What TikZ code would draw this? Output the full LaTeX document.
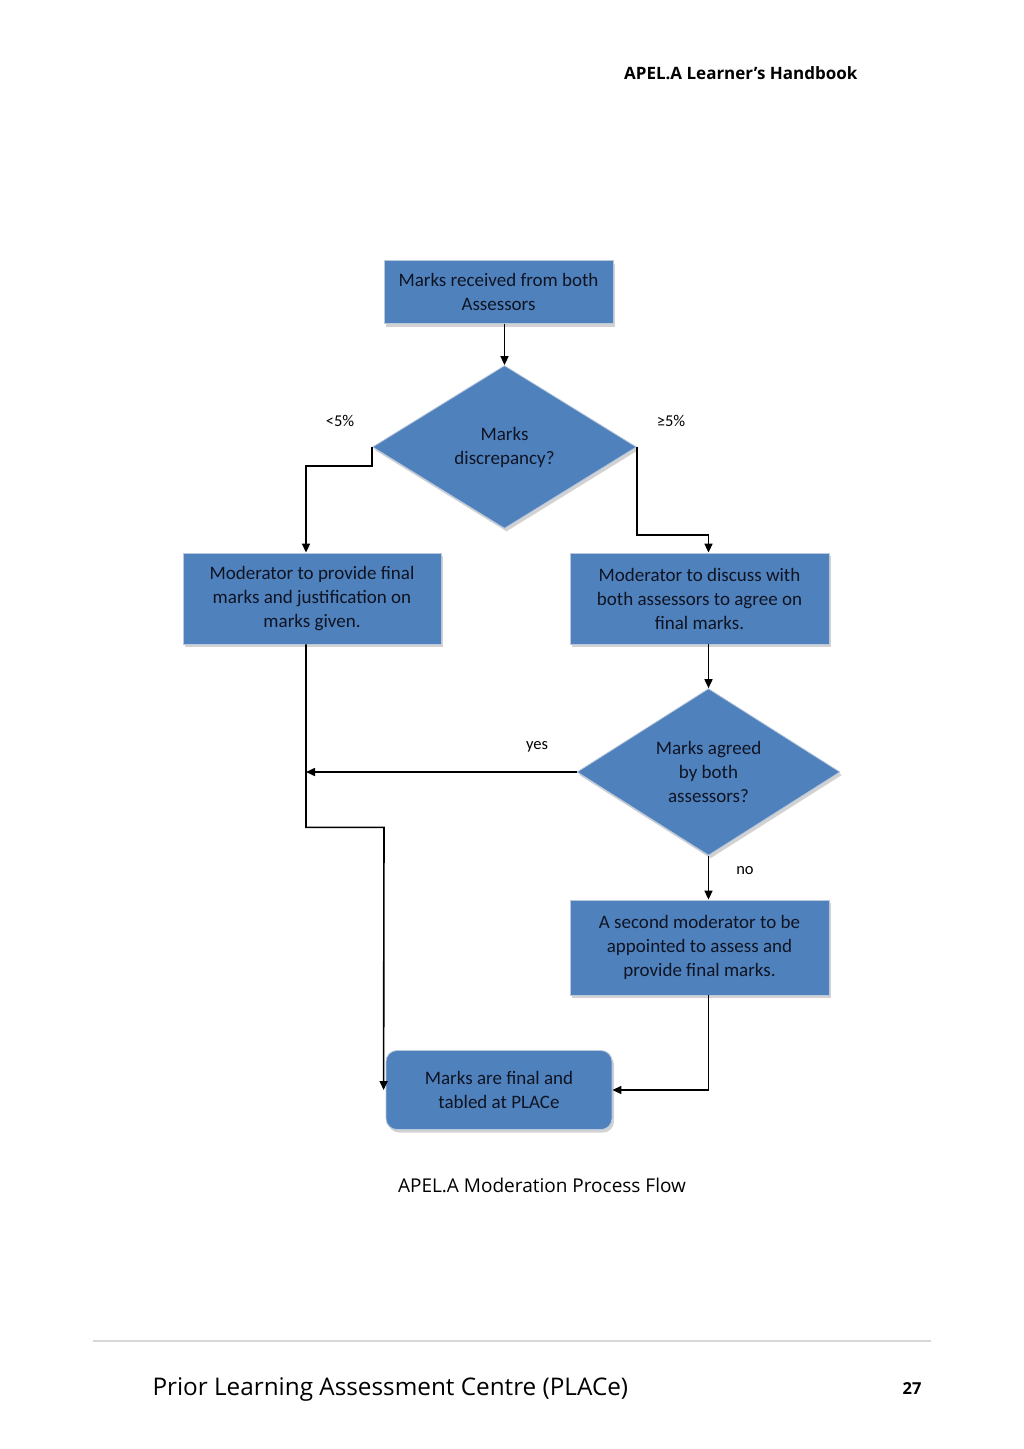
\documentclass[tikz,border=0pt]{standalone}
\usepackage{fontspec}
\setmainfont{Carlito}
\newfontfamily\pagefont{Open Sans}
\usetikzlibrary{arrows.meta,shapes.geometric,shadows}

\definecolor{boxblue}{RGB}{79,129,189}
\definecolor{boxedge}{RGB}{185,200,220}
\definecolor{boxtext}{RGB}{15,20,35}
\definecolor{rulegray}{RGB}{215,215,215}

\tikzset{
  stepbox/.style={rectangle, fill=boxblue, draw=boxedge, line width=0.8pt,
    text=boxtext, align=center, inner sep=0pt,
    font=\fontsize{19}{24}\selectfont,
    drop shadow={shadow xshift=2pt, shadow yshift=-3pt, fill=gray!70, opacity=0.5}},
  decision/.style={stepbox, diamond},
  endbox/.style={stepbox, rounded corners=11pt},
  flow/.style={line width=1.6pt, -{Triangle[length=9pt,width=8pt]}},
  lbl/.style={font=\fontsize{16.5}{18}\selectfont, text=black}
}

\begin{document}
\begin{tikzpicture}[x=1pt,y=-1pt]
  \useasboundingbox[fill=white] (0,0) rectangle (1024,1449);

  % page header and footer
  \node[anchor=east, font=\pagefont\bfseries\fontsize{17}{20}\selectfont] (head) at (861,73) {APEL.A Learner’s Handbook};
  \draw[rulegray, line width=1.6pt] (93,1341) -- (931,1341);
  \node[anchor=west, font=\pagefont\fontsize{24.3}{28}\selectfont] (foot) at (149,1389) {Prior Learning Assessment Centre (PLACe)};
  \node[font=\pagefont\bfseries\fontsize{16.5}{20}\selectfont] (page) at (912,1389) {27};

  % flow chart
  \node[stepbox, minimum width=229pt, minimum height=63pt] (recv) at (498.5,292) {Marks received from both\\Assessors};
  \node[decision, minimum width=264pt, minimum height=163pt] (disc) at (504.5,447) {Marks\\discrepancy?};
  \node[stepbox, minimum width=258pt, minimum height=91pt] (modfinal) at (312,598.5) {Moderator to provide final\\marks and justification on\\marks given.};
  \node[stepbox, minimum width=259pt, minimum height=91pt] (moddisc) at (699.5,598.5) {Moderator to discuss with\\both assessors to agree on\\final marks.};
  \node[decision, minimum width=263pt, minimum height=162pt] (agreed) at (708.5,772) {Marks agreed\\by both\\assessors?};
  \node[stepbox, minimum width=259pt, minimum height=95pt] (second) at (699.5,947.5) {A second moderator to be\\appointed to assess and\\provide final marks.};
  \node[endbox, minimum width=226pt, minimum height=79pt] (tabled) at (499,1090) {Marks are final and\\tabled at PLACe};

  \coordinate (leftline) at ([xshift=-6pt]modfinal.south);
  \coordinate (join) at (leftline |- agreed.west);

  \draw[flow] (disc.north |- recv.south) -- (disc.north);
  \draw[flow] (disc.west) -- ++(0,19) -| ([xshift=-6pt]modfinal.north);
  \draw[flow] (disc.east) -- ++(0,88) -| (agreed.north |- moddisc.north);
  \draw[flow] (agreed.north |- moddisc.south) -- (agreed.north);
  \draw[flow] (agreed.west) -- (join);
  \draw[flow] (agreed.south) -- (agreed.south |- second.north);
  \draw[flow] (agreed.south |- second.south) |- (tabled.east);
  \draw[flow] (leftline) |- ++(78,183) -- ([xshift=-2pt]tabled.west);

  \node[lbl] (lt) at (340,421) {<5\%};
  \node[lbl] (ge) at (671,421) {≥5\%};
  \node[lbl] (yes) at (537,747) {yes};
  \node[lbl] (no) at (745,871) {no};

  \node[font=\pagefont\fontsize{19}{22}\selectfont] (caption) at (542,1185) {APEL.A Moderation Process Flow};
\end{tikzpicture}
\end{document}
